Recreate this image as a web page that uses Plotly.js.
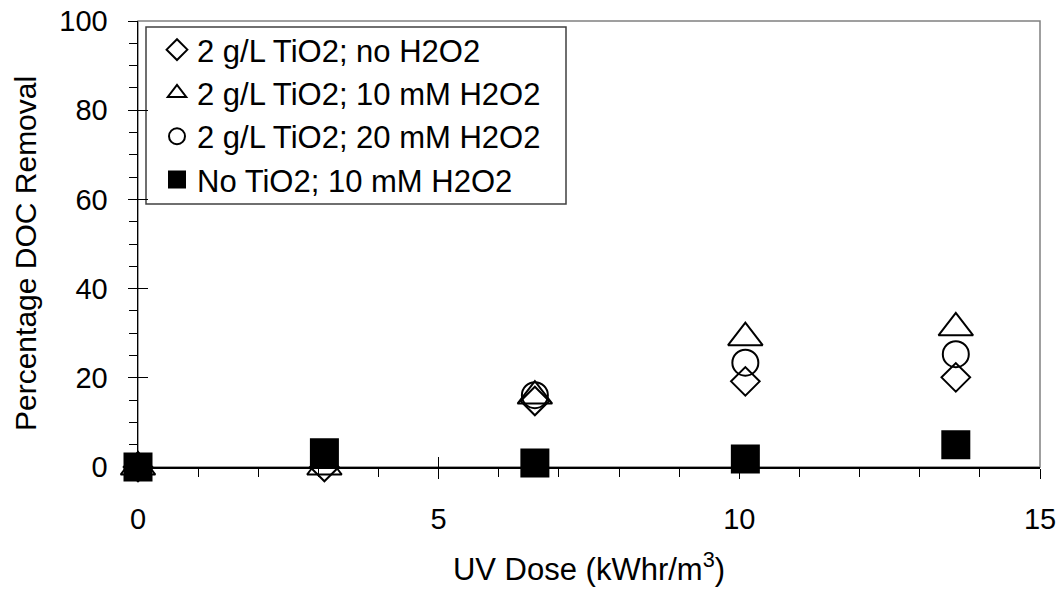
<!DOCTYPE html>
<html>
<head>
<meta charset="utf-8">
<script src="https://cdn.plot.ly/plotly-3.0.1.min.js"></script>
<style>html,body{margin:0;padding:0;background:#fff;}#chart{width:1061px;height:599px;}</style>
</head>
<body>
<div id="chart"></div>
<script>
// UV dose (kWhr/m3)
const uvDose = [0, 3.1, 6.6, 10.1, 13.6];
// Percentage DOC removal per series
const tio2NoH2O2 = [0, 0, 14.8, 19.2, 20.1];
const tio2H2O2_10 = [0, 0, 15.9, 29.0, 31.2];
const tio2H2O2_20 = [0, null, 16.1, 23.4, 25.3];
const noTio2H2O2_10 = [0, 3.2, 0.9, 1.8, 5.0];
const seriesNames = [
  "2 g/L TiO2; no H2O2",
  "2 g/L TiO2; 10 mM H2O2",
  "2 g/L TiO2; 20 mM H2O2",
  "No TiO2; 10 mM H2O2"
];
const xTitle = "UV Dose (kWhr/m<sup>3</sup>)";
const yTitle = "Percentage DOC Removal";

const FONT = "Liberation Sans, Arial, sans-serif";
const seriesY = [tio2NoH2O2, tio2H2O2_10, tio2H2O2_20, noTio2H2O2_10];
const symbols = ["diamond-open", "triangle-up-open", "circle-open", "square"];
const sizes = [22, 30, 26, 27];

const traces = seriesY.map((ys, i) => ({
  type: "scatter",
  mode: "markers",
  x: uvDose,
  y: ys,
  name: seriesNames[i],
  cliponaxis: false,
  marker: {
    symbol: symbols[i],
    size: sizes[i],
    color: "#000",
    line: {color: "#000", width: 2}
  }
}));
traces.push({type: "scatter", mode: "markers", x: [], y: [], xaxis: "x2", yaxis: "y2", showlegend: false, hoverinfo: "skip"});

// plot area in px: left 138, right 1040, top 21, bottom 467
const px = v => (v - 138) / 902;
const py = v => 1 - (v - 21) / 446;

const layout = {
  width: 1061,
  height: 599,
  margin: {l: 138, r: 21, t: 21, b: 132},
  paper_bgcolor: "#fff",
  plot_bgcolor: "#fff",
  font: {family: FONT, color: "#000", size: 29},
  showlegend: true,
  legend: {
    x: px(157), y: py(23), xanchor: "left", yanchor: "top",
    bgcolor: "rgba(0,0,0,0)", borderwidth: 0,
    font: {family: FONT, size: 31, color: "#000"}
  },
  xaxis: {
    range: [0, 15], dtick: 5, tick0: 0,
    showgrid: false, zeroline: false,
    showline: true, linecolor: "#000", linewidth: 1.5,
    ticks: "outside", ticklen: 10, tickwidth: 1, tickcolor: "#000",
    minor: {dtick: 1, ticks: "outside", ticklen: 8, tickwidth: 1, tickcolor: "#000", showgrid: false},
    tickfont: {family: FONT, size: 29},
    ticklabelstandoff: 16,
    automargin: false,
    title: {text: xTitle, font: {family: FONT, size: 31}, standoff: 24}
  },
  xaxis2: {
    overlaying: "x", anchor: "y", range: [0, 15], dtick: 5, tick0: 0,
    showgrid: false, zeroline: false, showline: false,
    ticks: "inside", ticklen: 10, tickwidth: 1, tickcolor: "#000",
    showticklabels: false
  },
  yaxis: {
    range: [0, 100], dtick: 20, tick0: 0,
    showgrid: false, zeroline: false,
    showline: true, linecolor: "#000", linewidth: 1.5,
    ticks: "outside", ticklen: 9, tickwidth: 1, tickcolor: "#000",
    minor: {dtick: 5, ticks: "outside", ticklen: 8, tickwidth: 1, tickcolor: "#000", showgrid: false},
    tickfont: {family: FONT, size: 29},
    ticklabelstandoff: 14,
    automargin: false
  },
  yaxis2: {
    overlaying: "y", anchor: "x", range: [0, 100], dtick: 20, tick0: 0,
    showgrid: false, zeroline: false, showline: false,
    ticks: "inside", ticklen: 10, tickwidth: 1, tickcolor: "#000",
    showticklabels: false
  },
  annotations: [{
    text: yTitle, xref: "paper", yref: "paper",
    x: px(26), y: py(254), xanchor: "center", yanchor: "middle",
    textangle: -90, showarrow: false,
    font: {family: FONT, size: 30, color: "#000"}
  }],
  shapes: [
    {type: "rect", xref: "paper", yref: "paper", x0: 0, x1: 1, y0: 0, y1: 1,
     line: {color: "#808080", width: 1.5}, layer: "below"},
    {type: "rect", xref: "paper", yref: "paper", x0: px(146), x1: px(566), y0: py(204), y1: py(27),
     fillcolor: "#fff", line: {color: "#404040", width: 1.5}, layer: "below"}
  ]
};

Plotly.newPlot("chart", traces, layout, {staticPlot: true, displayModeBar: false});
</script>
</body>
</html>
